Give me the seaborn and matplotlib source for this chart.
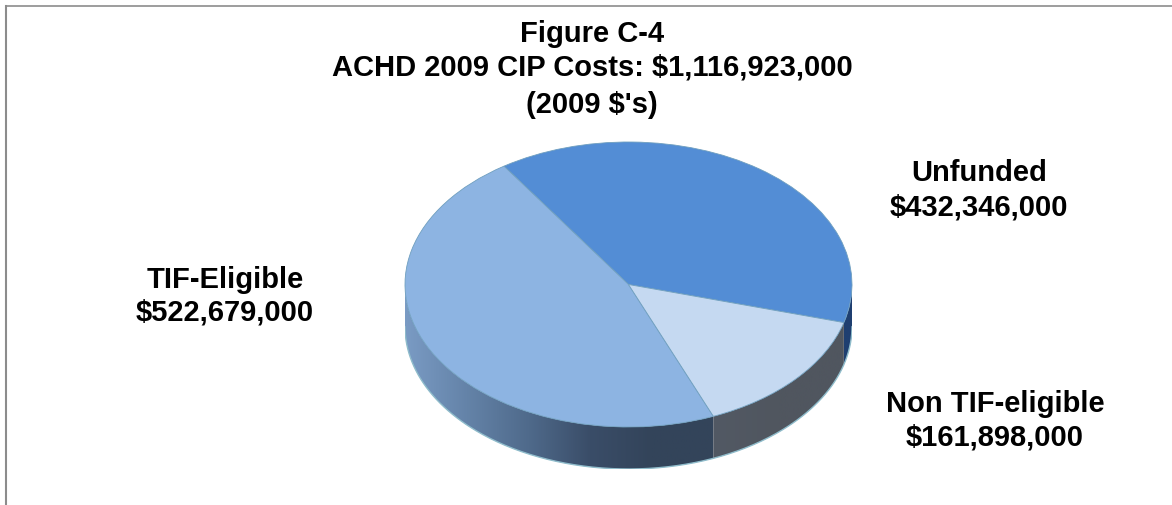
import numpy as np
import matplotlib
matplotlib.use('Agg')
import matplotlib.pyplot as plt
import seaborn as sns
from matplotlib.colors import LinearSegmentedColormap
from matplotlib.patches import Polygon

categories = ['Unfunded', 'TIF-Eligible', 'Non TIF-eligible']
costs = [432346000, 522679000, 161898000]
cost_labels = ['$432,346,000', '$522,679,000', '$161,898,000']
title_lines = ['Figure C-4', 'ACHD 2009 CIP Costs: $1,116,923,000', "(2009 $'s)"]

top_colors = ['#538dd5', '#8db4e2', '#c5d9f1']

W, H = 1172, 506
sns.set_theme(style='white')
plt.rcParams['font.family'] = ['Liberation Sans', 'DejaVu Sans']

fig = plt.figure(figsize=(W / 100, H / 100), dpi=100)

# grey chart frame, runs off the right and bottom of the crop
bg = fig.add_axes([6 / W, 0, 1 - 6 / W, (H - 6.5) / H])
bg.set_xticks([])
bg.set_yticks([])
for side in ['right', 'bottom']:
    bg.spines[side].set_visible(False)
bg.spines['left'].set_color('#8c8c8c')
bg.spines['left'].set_linewidth(1.5)
bg.spines['top'].set_color('#8c8c8c')
bg.spines['top'].set_linewidth(1.2)

# axes sized so that the unit circle lands on the ellipse of the pie top
rx, ry, cx, cy, depth = 223.5, 142.5, 628.5, 285.5, 42
ax = fig.add_axes([(cx - rx) / W, (H - cy - ry - depth) / H, 2 * rx / W, (2 * ry + depth) / H])
d = depth / ry
start = -15.5

# side wall: one band per slice, only the part facing the viewer
angles = start + np.cumsum([0] + costs) / sum(costs) * 360
side_maps = [
    ['#1f3f70', '#1f3f70'],
    ['#7a9bc4', '#6483a8', '#4f6a8b', '#3a4d68', '#33445a', '#33445a'],
    ['#525964', '#50565f', '#50565f'],
]
for i in range(3):
    a0, a1 = angles[i], angles[i + 1]
    # wrap to the lower half of the ellipse
    lo = max(a0, 180) if a1 > 180 else max(a0, -180)
    hi = min(a1, 360) if a1 > 180 else min(a1, 0)
    if hi <= lo:
        continue
    t = np.radians(np.linspace(lo, hi, 200))
    xs, ys = np.cos(t), np.sin(t)
    poly = Polygon(np.r_[np.c_[xs, ys], np.c_[xs, ys - d][::-1]], closed=True,
                   transform=ax.transData, fc='none', ec='none')
    ax.add_patch(poly)
    cmap = LinearSegmentedColormap.from_list('side%d' % i, side_maps[i])
    im = ax.imshow(np.linspace(0, 1, 256).reshape(1, -1), cmap=cmap, aspect='auto',
                   extent=[xs.min(), xs.max(), -1 - d, 1], zorder=1)
    im.set_clip_path(poly)

t = np.radians(np.linspace(180, 360, 300))
ax.plot(np.cos(t), np.sin(t) - d, color='#8fbccb', lw=1, zorder=2)

wedges, _ = ax.pie(costs, colors=top_colors, startangle=start, radius=1, counterclock=True,
                   wedgeprops=dict(edgecolor='#6f9fbf', linewidth=0.6, zorder=3))
ax.set_xlim(-1, 1)
ax.set_ylim(-1 - d, 1)
ax.set_aspect('auto')
ax.axis('off')


def put(x, y, s):
    fig.text(x / W, 1 - y / H, s, ha='center', va='center', fontsize=21, fontweight='bold', color='black')


for y, line in zip([34, 67, 105], title_lines):
    put(592, y, line)

put(979, 173, categories[0])
put(979, 207, cost_labels[0])
put(225, 280, categories[1])
put(225, 313, cost_labels[1])
put(995, 404, categories[2])
put(995, 438, cost_labels[2])

fig.savefig('out.png', dpi=100)
